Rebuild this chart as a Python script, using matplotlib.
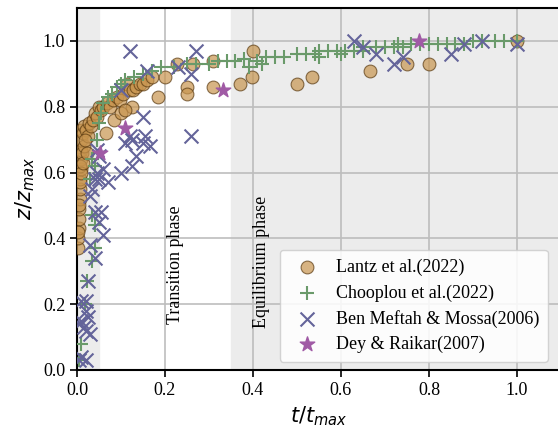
import matplotlib
matplotlib.use("Agg")
import matplotlib.pyplot as plt

plt.rcParams['font.family'] = ['Liberation Serif', 'DejaVu Serif']
plt.rcParams['mathtext.fontset'] = 'dejavusans'

# Lantz et al. (2022)
lantz_t = [0.002, 0.003, 0.004, 0.005, 0.005, 0.006, 0.006, 0.007, 0.008, 0.008,
           0.009, 0.010, 0.010, 0.012, 0.013, 0.015, 0.017, 0.020, 0.024, 0.028,
           0.032, 0.036, 0.040, 0.045, 0.050, 0.055, 0.060, 0.068, 0.075, 0.082,
           0.090, 0.098, 0.105, 0.113, 0.120, 0.125, 0.128, 0.135, 0.143, 0.150,
           0.160, 0.170, 0.185, 0.200, 0.227, 0.250, 0.250, 0.264, 0.310, 0.310,
           0.370, 0.397, 0.400, 0.500, 0.534, 0.666, 0.750, 0.800, 1.000,
           0.003, 0.004, 0.006, 0.007, 0.010, 0.014, 0.018, 0.022, 0.065, 0.085,
           0.100, 0.110]
lantz_z = [0.37, 0.40, 0.43, 0.46, 0.49, 0.52, 0.55, 0.58, 0.61, 0.64,
           0.67, 0.70, 0.73, 0.66, 0.72, 0.74, 0.68, 0.73, 0.71, 0.75,
           0.74, 0.76, 0.78, 0.77, 0.80, 0.79, 0.80, 0.81, 0.80, 0.82,
           0.83, 0.82, 0.84, 0.87, 0.85, 0.80, 0.85, 0.86, 0.87, 0.87,
           0.88, 0.89, 0.83, 0.89, 0.93, 0.86, 0.84, 0.93, 0.94, 0.86,
           0.87, 0.89, 0.97, 0.87, 0.89, 0.91, 0.93, 0.93, 1.00,
           0.42, 0.50, 0.57, 0.62, 0.60, 0.63, 0.70, 0.66, 0.72, 0.76,
           0.78, 0.79]

# Chooplou et al. (2022)
chooplou_t = [0.005, 0.010, 0.018, 0.022, 0.035, 0.040, 0.040, 0.035, 0.030, 0.040,
              0.035, 0.045, 0.050, 0.055, 0.060, 0.070, 0.080, 0.090, 0.100, 0.110,
              0.130, 0.150, 0.170, 0.190, 0.220, 0.250, 0.270, 0.300, 0.320, 0.340,
              0.360, 0.380, 0.410, 0.430, 0.450, 0.470, 0.500, 0.520, 0.540, 0.550,
              0.570, 0.590, 0.610, 0.630, 0.650, 0.680, 0.700, 0.720, 0.740, 0.760,
              0.780, 0.800, 0.820, 0.840, 0.860, 0.880, 0.900, 0.920, 0.950, 0.970,
              1.000, 0.390, 0.420, 0.550, 0.600, 0.650, 0.730]
chooplou_z = [0.03, 0.08, 0.20, 0.27, 0.33, 0.37, 0.44, 0.47, 0.58, 0.62,
              0.64, 0.70, 0.75, 0.78, 0.81, 0.83, 0.84, 0.86, 0.87, 0.88,
              0.89, 0.90, 0.91, 0.92, 0.92, 0.93, 0.93, 0.93, 0.94, 0.94,
              0.94, 0.945, 0.94, 0.95, 0.95, 0.95, 0.96, 0.96, 0.96, 0.97,
              0.97, 0.97, 0.97, 0.97, 0.98, 0.98, 0.98, 0.98, 0.98, 0.99,
              0.99, 0.99, 0.99, 0.99, 0.99, 0.99, 1.00, 1.00, 1.00, 1.00,
              1.00, 0.92, 0.93, 0.95, 0.96, 0.97, 0.99]

# Ben Meftah & Mossa (2006)
meftah_t = [0.005, 0.010, 0.020, 0.005, 0.010, 0.015, 0.020, 0.025, 0.030, 0.010,
            0.020, 0.025, 0.020, 0.030, 0.040, 0.050, 0.055, 0.060, 0.040, 0.030,
            0.035, 0.040, 0.045, 0.050, 0.060, 0.070, 0.100, 0.125, 0.135, 0.110,
            0.120, 0.125, 0.150, 0.155, 0.165, 0.150, 0.260, 0.100, 0.120, 0.160,
            0.270, 0.260, 0.230, 0.050, 0.045, 0.630, 0.650, 0.680, 0.720, 0.740,
            0.850, 0.880, 0.920, 1.000]
meftah_z = [0.03, 0.04, 0.03, 0.14, 0.15, 0.13, 0.12, 0.16, 0.11, 0.21,
            0.21, 0.27, 0.18, 0.38, 0.34, 0.45, 0.48, 0.41, 0.48, 0.53,
            0.55, 0.58, 0.60, 0.58, 0.61, 0.57, 0.60, 0.62, 0.65, 0.69,
            0.71, 0.70, 0.69, 0.71, 0.68, 0.77, 0.71, 0.85, 0.97, 0.91,
            0.97, 0.90, 0.92, 0.65, 0.67, 1.00, 0.98, 0.96, 0.93, 0.95,
            0.96, 0.99, 1.00, 0.99]

# Dey & Raikar (2007)
dey_t = [0.052, 0.109, 0.332, 0.777]
dey_z = [0.66, 0.735, 0.85, 1.00]

fig = plt.figure(figsize=(5.58, 4.34), dpi=100)
ax = fig.add_axes([77 / 558, 64 / 434, 484 / 558, 362 / 434])

# phase bands
ax.axvspan(0.0, 0.05, color='#ececec', zorder=0)
ax.axvspan(0.35, 1.1, color='#ececec', zorder=0)
ax.grid(True, color='#bdbdbd', linewidth=1.2, zorder=1)
ax.set_axisbelow(True)

ax.scatter(lantz_t, lantz_z, s=85, c='#c8954f', alpha=0.7, edgecolors='#5a3a10',
           linewidths=0.8, zorder=3, label='Lantz et al.(2022)')
ax.scatter(chooplou_t, chooplou_z, s=110, marker='+', c='#6a9a6a', linewidths=1.5,
           zorder=4, label='Chooplou et al.(2022)')
ax.scatter(meftah_t, meftah_z, s=100, marker='x', c='#64649a', linewidths=1.5,
           zorder=4, label='Ben Meftah & Mossa(2006)')
ax.scatter(dey_t, dey_z, s=120, marker='*', c='#a05aa5', zorder=5,
           label='Dey & Raikar(2007)')

ax.text(0.225, 0.32, 'Transition phase', rotation=90, ha='center', va='center',
        fontsize=13)
ax.text(0.42, 0.33, 'Equilibrium phase', rotation=90, ha='center', va='center',
        fontsize=13)

ax.set_xlim(0, 1.1)
ax.set_ylim(0, 1.1)
ax.set_xticks([0.0, 0.2, 0.4, 0.6, 0.8, 1.0])
ax.set_yticks([0.0, 0.2, 0.4, 0.6, 0.8, 1.0])
ax.tick_params(labelsize=13, length=5, width=1.2)
for sp in ax.spines.values():
    sp.set_linewidth(1.5)
ax.set_xlabel('$t/t_{max}$', fontsize=15, labelpad=4)
ax.set_ylabel('$z/z_{max}$', fontsize=15, labelpad=4)

leg = ax.legend(loc='lower right', fontsize=13, framealpha=0.85, handletextpad=0.6,
                borderpad=0.5, labelspacing=0.45, borderaxespad=0,
                bbox_to_anchor=(0.973, 0.022))
leg.get_frame().set_edgecolor('#cccccc')

fig.savefig('out.png', dpi=100)
